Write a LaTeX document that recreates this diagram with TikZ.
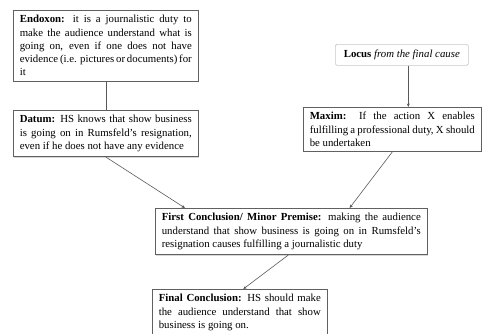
\documentclass[tikz,border=0pt]{standalone}
\usepackage{fontspec}
\setmainfont{Liberation Serif}
\usetikzlibrary{arrows.meta,shadows}
\hyphenpenalty=10000
\exhyphenpenalty=10000

\begin{document}
\begin{tikzpicture}[x=1pt, y=-1pt, >={Stealth[length=3.5pt,width=3pt]}]
    \useasboundingbox (0,0) rectangle (483,333);

    \tikzset{
        box/.style = {draw=gray!75!black, line width=0.6pt, fill=white, anchor=north west,
                      align=justify, inner xsep=6.5pt, inner ysep=5pt,
                      font=\fontsize{10.8}{13.3}\selectfont,
                      drop shadow={shadow xshift=0.8pt, shadow yshift=-0.8pt, fill=gray!60}},
        locbox/.style = {draw=gray!45, line width=0.6pt, rounded corners=1.5pt, anchor=north west,
                         minimum width=133pt, minimum height=21pt, inner sep=2pt,
                         font=\fontsize{10.8}{13.3}\selectfont},
        link/.style = {draw=gray!70!black, line width=0.6pt},
        tip/.style = {link, ->},
    }

    % premises
    \node[box, text width=172pt] (endoxon) at (13,10)
        {\textbf{Endoxon:} it is a journalistic duty to make the audience understand what is going on, even if one does not have evidence (i.e. pictures or documents) for it};
    \node[box, text width=172pt] (datum) at (13,110)
        {\textbf{Datum:} HS knows that show business is going on in Rumsfeld's resignation, even if he does not have any evidence};

    \node[locbox] (locus) at (335,44) {\textbf{Locus} \textit{from the final cause}};
    \node[box, text width=165pt] (maxim) at (303,107)
        {\textbf{Maxim:} If the action X enables fulfilling a professional duty, X should be undertaken};

    % conclusions
    \node[box, text width=259pt] (first) at (155,208)
        {\textbf{First Conclusion/ Minor Premise:} making the audience understand that show business is going on in Rumsfeld's resignation causes fulfilling a journalistic duty};
    \node[box, text width=162pt] (final) at (152,289)
        {\textbf{Final Conclusion:} HS should make the audience understand that show business is going on.};

    \draw[link] (endoxon.south) -- (datum.north);
    \draw[tip] ([xshift=6.5pt]locus.south) -- ([xshift=6.5pt]locus.south |- maxim.north);
    \draw[tip] (datum.south) -- ([xshift=30pt]first.north west);
    \draw[tip] (maxim.south) -- ([xshift=-78pt]first.north east);
    \draw[tip] ([xshift=-3pt]first.south) -- ([xshift=3.5pt]final.north);

\end{tikzpicture}
\end{document}
